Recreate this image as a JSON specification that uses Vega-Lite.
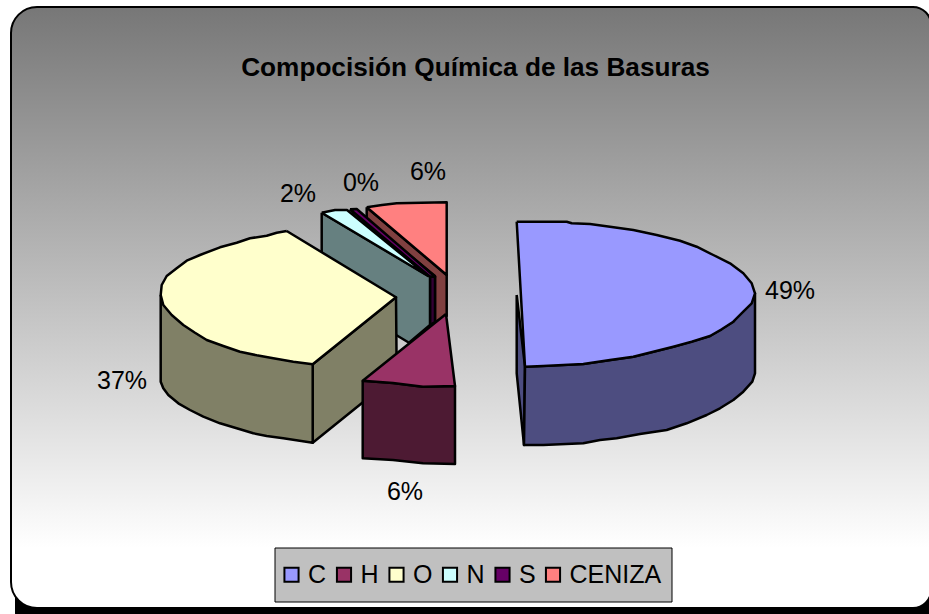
{
"$schema":"https://vega.github.io/schema/vega-lite/v6.json",
"width":929,"height":614,"autosize":{"type":"none"},"padding":0,"background":"white",
"title":{"text":"Compocisión Química de las Basuras","font":"Liberation Sans","fontSize":26.2,"fontWeight":"bold","color":"black","anchor":"middle","offset":-81,"dx":11},
"config":{"view":{"stroke":null}},
"datasets":{
"fondo":[{"x":15,"x2":945,"y":12,"y2":640,"capa":"sombra"}],
"panel":[{"x":11,"x2":931,"y":7,"y2":608,"capa":"panel"}],
"cajaleyenda":[{"x":275,"x2":672,"y":548,"y2":602}],
"rotulos":[{"x":790,"y":291,"t":"49%"},{"x":122,"y":381,"t":"37%"},{"x":405,"y":492,"t":"6%"},{"x":298,"y":194,"t":"2%"},{"x":361,"y":183,"t":"0%"},{"x":428,"y":172,"t":"6%"}],
"caras":[
{"cara":"a1","tono":"CENIZA lado","i":1,"x":366.7,"y":207.3},{"cara":"a1","tono":"CENIZA lado","i":2,"x":446.7,"y":275},{"cara":"a1","tono":"CENIZA lado","i":3,"x":446.7,"y":316},{"cara":"a1","tono":"CENIZA lado","i":4,"x":435,"y":322},{"cara":"a1","tono":"CENIZA lado","i":5,"x":435,"y":276},{"cara":"a1","tono":"CENIZA lado","i":6,"x":366.7,"y":220},{"cara":"a1","tono":"CENIZA lado","i":7,"x":366.7,"y":207.3},
{"cara":"a2","tono":"CENIZA","i":1,"x":366.7,"y":207.3},{"cara":"a2","tono":"CENIZA","i":2,"x":382,"y":205},{"cara":"a2","tono":"CENIZA","i":3,"x":396.7,"y":203.3},{"cara":"a2","tono":"CENIZA","i":4,"x":446.7,"y":202.3},{"cara":"a2","tono":"CENIZA","i":5,"x":446.7,"y":275},{"cara":"a2","tono":"CENIZA","i":6,"x":366.7,"y":207.3},
{"cara":"b1","tono":"S lado","i":1,"x":350,"y":209.3},{"cara":"b1","tono":"S lado","i":2,"x":435,"y":276.7},{"cara":"b1","tono":"S lado","i":3,"x":435,"y":322},{"cara":"b1","tono":"S lado","i":4,"x":430,"y":325},{"cara":"b1","tono":"S lado","i":5,"x":430,"y":276.7},{"cara":"b1","tono":"S lado","i":6,"x":350,"y":209.3},
{"cara":"b2","tono":"S","i":1,"x":350,"y":209.3},{"cara":"b2","tono":"S","i":2,"x":356.7,"y":209},{"cara":"b2","tono":"S","i":3,"x":435,"y":276.7},{"cara":"b2","tono":"S","i":4,"x":430,"y":276.7},{"cara":"b2","tono":"S","i":5,"x":350,"y":209.3},
{"cara":"c1","tono":"N lado","i":1,"x":321.7,"y":212.7},{"cara":"c1","tono":"N lado","i":2,"x":430,"y":276.7},{"cara":"c1","tono":"N lado","i":3,"x":430,"y":325},{"cara":"c1","tono":"N lado","i":4,"x":409,"y":342.7},{"cara":"c1","tono":"N lado","i":5,"x":321.7,"y":290},{"cara":"c1","tono":"N lado","i":6,"x":321.7,"y":212.7},
{"cara":"c2","tono":"N","i":1,"x":321.7,"y":212.7},{"cara":"c2","tono":"N","i":2,"x":335,"y":210},{"cara":"c2","tono":"N","i":3,"x":347,"y":210},{"cara":"c2","tono":"N","i":4,"x":428,"y":276},{"cara":"c2","tono":"N","i":5,"x":321.7,"y":212.7},
{"cara":"d1","tono":"O lado","i":1,"x":312.7,"y":364.3},{"cara":"d1","tono":"O lado","i":2,"x":396,"y":297.3},{"cara":"d1","tono":"O lado","i":3,"x":396.7,"y":375},{"cara":"d1","tono":"O lado","i":4,"x":312.7,"y":442.7},{"cara":"d1","tono":"O lado","i":5,"x":312.7,"y":364.3},
{"cara":"d2","tono":"O lado","i":1,"x":160.7,"y":295},{"cara":"d2","tono":"O lado","i":2,"x":160.7,"y":381.7},{"cara":"d2","tono":"O lado","i":3,"x":163.3,"y":388.3},{"cara":"d2","tono":"O lado","i":4,"x":168.3,"y":395},{"cara":"d2","tono":"O lado","i":5,"x":178.3,"y":403.3},{"cara":"d2","tono":"O lado","i":6,"x":190,"y":410},{"cara":"d2","tono":"O lado","i":7,"x":203.3,"y":416.7},{"cara":"d2","tono":"O lado","i":8,"x":220,"y":423.3},{"cara":"d2","tono":"O lado","i":9,"x":236.7,"y":428.3},{"cara":"d2","tono":"O lado","i":10,"x":253.3,"y":433.3},{"cara":"d2","tono":"O lado","i":11,"x":266.7,"y":436},{"cara":"d2","tono":"O lado","i":12,"x":283.3,"y":438.3},{"cara":"d2","tono":"O lado","i":13,"x":312.7,"y":442.7},{"cara":"d2","tono":"O lado","i":14,"x":312.7,"y":364.3},{"cara":"d2","tono":"O lado","i":15,"x":160.7,"y":295},
{"cara":"d3","tono":"O","i":1,"x":286.7,"y":231},{"cara":"d3","tono":"O","i":2,"x":276.7,"y":232.7},{"cara":"d3","tono":"O","i":3,"x":266.7,"y":235.7},{"cara":"d3","tono":"O","i":4,"x":250,"y":238.3},{"cara":"d3","tono":"O","i":5,"x":236.7,"y":242.7},{"cara":"d3","tono":"O","i":6,"x":220,"y":247.3},{"cara":"d3","tono":"O","i":7,"x":200,"y":255},{"cara":"d3","tono":"O","i":8,"x":186.7,"y":260.7},{"cara":"d3","tono":"O","i":9,"x":176.7,"y":268.3},{"cara":"d3","tono":"O","i":10,"x":166.7,"y":276},{"cara":"d3","tono":"O","i":11,"x":161.7,"y":285},{"cara":"d3","tono":"O","i":12,"x":160.7,"y":295},{"cara":"d3","tono":"O","i":13,"x":163.3,"y":305},{"cara":"d3","tono":"O","i":14,"x":171.7,"y":315},{"cara":"d3","tono":"O","i":15,"x":183.3,"y":325},{"cara":"d3","tono":"O","i":16,"x":195,"y":332.7},{"cara":"d3","tono":"O","i":17,"x":206.7,"y":340},{"cara":"d3","tono":"O","i":18,"x":223.3,"y":346},{"cara":"d3","tono":"O","i":19,"x":240,"y":351.7},{"cara":"d3","tono":"O","i":20,"x":256.7,"y":355.3},{"cara":"d3","tono":"O","i":21,"x":273.3,"y":358.3},{"cara":"d3","tono":"O","i":22,"x":293.3,"y":361.7},{"cara":"d3","tono":"O","i":23,"x":312.7,"y":364.3},{"cara":"d3","tono":"O","i":24,"x":396,"y":297.3},{"cara":"d3","tono":"O","i":25,"x":286.7,"y":231},
{"cara":"e1","tono":"H lado","i":1,"x":362.7,"y":380.7},{"cara":"e1","tono":"H lado","i":2,"x":393,"y":383},{"cara":"e1","tono":"H lado","i":3,"x":423,"y":386.7},{"cara":"e1","tono":"H lado","i":4,"x":455,"y":386},{"cara":"e1","tono":"H lado","i":5,"x":455,"y":464},{"cara":"e1","tono":"H lado","i":6,"x":423,"y":463.3},{"cara":"e1","tono":"H lado","i":7,"x":393,"y":460},{"cara":"e1","tono":"H lado","i":8,"x":362.7,"y":458.3},{"cara":"e1","tono":"H lado","i":9,"x":362.7,"y":380.7},
{"cara":"e2","tono":"H","i":1,"x":446,"y":314},{"cara":"e2","tono":"H","i":2,"x":362.7,"y":380.7},{"cara":"e2","tono":"H","i":3,"x":393,"y":383},{"cara":"e2","tono":"H","i":4,"x":423,"y":386.7},{"cara":"e2","tono":"H","i":5,"x":455,"y":386},{"cara":"e2","tono":"H","i":6,"x":446,"y":314},
{"cara":"f1","tono":"C lado","i":1,"x":516.7,"y":295},{"cara":"f1","tono":"C lado","i":2,"x":525,"y":366.7},{"cara":"f1","tono":"C lado","i":3,"x":524,"y":445},{"cara":"f1","tono":"C lado","i":4,"x":516.7,"y":373.3},{"cara":"f1","tono":"C lado","i":5,"x":516.7,"y":295},
{"cara":"f2","tono":"C lado","i":1,"x":525,"y":366.7},{"cara":"f2","tono":"C lado","i":2,"x":583.3,"y":364},{"cara":"f2","tono":"C lado","i":3,"x":633.3,"y":356.7},{"cara":"f2","tono":"C lado","i":4,"x":673.3,"y":346.7},{"cara":"f2","tono":"C lado","i":5,"x":710,"y":336},{"cara":"f2","tono":"C lado","i":6,"x":733.3,"y":321.7},{"cara":"f2","tono":"C lado","i":7,"x":755,"y":293.3},{"cara":"f2","tono":"C lado","i":8,"x":755,"y":373.3},{"cara":"f2","tono":"C lado","i":9,"x":752.3,"y":381.7},{"cara":"f2","tono":"C lado","i":10,"x":743.3,"y":391.7},{"cara":"f2","tono":"C lado","i":11,"x":733.3,"y":400},{"cara":"f2","tono":"C lado","i":12,"x":720,"y":408.3},{"cara":"f2","tono":"C lado","i":13,"x":706.7,"y":415},{"cara":"f2","tono":"C lado","i":14,"x":686.7,"y":423.3},{"cara":"f2","tono":"C lado","i":15,"x":666.7,"y":430},{"cara":"f2","tono":"C lado","i":16,"x":640,"y":434},{"cara":"f2","tono":"C lado","i":17,"x":616.7,"y":438.3},{"cara":"f2","tono":"C lado","i":18,"x":600,"y":440},{"cara":"f2","tono":"C lado","i":19,"x":583.3,"y":443.3},{"cara":"f2","tono":"C lado","i":20,"x":543.3,"y":445},{"cara":"f2","tono":"C lado","i":21,"x":524,"y":445},{"cara":"f2","tono":"C lado","i":22,"x":525,"y":366.7},
{"cara":"f3","tono":"C","i":1,"x":516.7,"y":221.7},{"cara":"f3","tono":"C","i":2,"x":566.7,"y":221.7},{"cara":"f3","tono":"C","i":3,"x":571.7,"y":223.3},{"cara":"f3","tono":"C","i":4,"x":590,"y":224},{"cara":"f3","tono":"C","i":5,"x":610,"y":226.7},{"cara":"f3","tono":"C","i":6,"x":633.3,"y":230},{"cara":"f3","tono":"C","i":7,"x":656.7,"y":235},{"cara":"f3","tono":"C","i":8,"x":680,"y":240.7},{"cara":"f3","tono":"C","i":9,"x":696.7,"y":246.7},{"cara":"f3","tono":"C","i":10,"x":713.3,"y":255},{"cara":"f3","tono":"C","i":11,"x":730,"y":263.3},{"cara":"f3","tono":"C","i":12,"x":743.3,"y":273.3},{"cara":"f3","tono":"C","i":13,"x":751.7,"y":283.3},{"cara":"f3","tono":"C","i":14,"x":755,"y":293.3},{"cara":"f3","tono":"C","i":15,"x":751.7,"y":303.3},{"cara":"f3","tono":"C","i":16,"x":743.3,"y":311.7},{"cara":"f3","tono":"C","i":17,"x":733.3,"y":321.7},{"cara":"f3","tono":"C","i":18,"x":721.7,"y":329.3},{"cara":"f3","tono":"C","i":19,"x":710,"y":336},{"cara":"f3","tono":"C","i":20,"x":691.7,"y":341.7},{"cara":"f3","tono":"C","i":21,"x":673.3,"y":346.7},{"cara":"f3","tono":"C","i":22,"x":653.3,"y":351.7},{"cara":"f3","tono":"C","i":23,"x":633.3,"y":356.7},{"cara":"f3","tono":"C","i":24,"x":610,"y":360},{"cara":"f3","tono":"C","i":25,"x":583.3,"y":364},{"cara":"f3","tono":"C","i":26,"x":563.3,"y":365},{"cara":"f3","tono":"C","i":27,"x":543.3,"y":366},{"cara":"f3","tono":"C","i":28,"x":525,"y":366.7},{"cara":"f3","tono":"C","i":29,"x":516.7,"y":221.7}
]},
"layer":[
{"data":{"name":"fondo"},"mark":{"type":"rect","cornerRadius":28,"fill":"black","clip":true},
 "encoding":{"x":{"field":"x","type":"quantitative","scale":{"domain":[0,929],"nice":false,"zero":false},"axis":null},"x2":{"field":"x2"},"y":{"field":"y","type":"quantitative","scale":{"domain":[614,0],"nice":false,"zero":false},"axis":null},"y2":{"field":"y2"}}},
{"data":{"name":"panel"},"mark":{"type":"rect","cornerRadiusTopLeft":26,"cornerRadiusBottomLeft":26,"cornerRadiusTopRight":18,"cornerRadiusBottomRight":18,"stroke":"black","strokeWidth":2,"fill":{"x1":0,"y1":0,"x2":0,"y2":1,"gradient":"linear","stops":[{"offset":0,"color":"#777777"},{"offset":0.9,"color":"#ffffff"},{"offset":1,"color":"#ffffff"}]}},
 "encoding":{"x":{"field":"x","type":"quantitative"},"x2":{"field":"x2"},"y":{"field":"y","type":"quantitative"},"y2":{"field":"y2"}}},
{"data":{"name":"cajaleyenda"},"mark":{"type":"rect","fill":"#c0c0c0","stroke":"black","strokeWidth":1},
 "encoding":{"x":{"field":"x","type":"quantitative"},"x2":{"field":"x2"},"y":{"field":"y","type":"quantitative"},"y2":{"field":"y2"}}},
{"data":{"name":"caras"},"mark":{"type":"line","stroke":"black","strokeWidth":2.5,"strokeJoin":"round","interpolate":"linear"},
 "encoding":{"x":{"field":"x","type":"quantitative"},"y":{"field":"y","type":"quantitative"},"detail":{"field":"cara"},"order":{"field":"i","type":"quantitative"},
 "fill":{"field":"tono","type":"nominal","scale":{"domain":["C","H","O","N","S","CENIZA","C lado","H lado","O lado","N lado","S lado","CENIZA lado"],"range":["#9999ff","#993366","#ffffcc","#ccffff","#660066","#ff8080","#4d4d80","#4d1a33","#808066","#668080","#330033","#804040"]},
 "legend":{"values":["C","H","O","N","S","CENIZA"],"title":null,"orient":"none","legendX":269,"legendY":552,"direction":"horizontal","columns":6,"padding":10,"symbolType":"square","symbolSize":200,"symbolStrokeColor":"black","symbolStrokeWidth":2,"labelFont":"Liberation Sans","labelFontSize":25,"labelColor":"black","labelOffset":4,"columnPadding":4.5,"symbolOpacity":1}}}},
{"data":{"name":"rotulos"},"mark":{"type":"text","font":"Liberation Sans","fontSize":25,"color":"black"},
 "encoding":{"x":{"field":"x","type":"quantitative"},"y":{"field":"y","type":"quantitative"},"text":{"field":"t"}}}
]
}
